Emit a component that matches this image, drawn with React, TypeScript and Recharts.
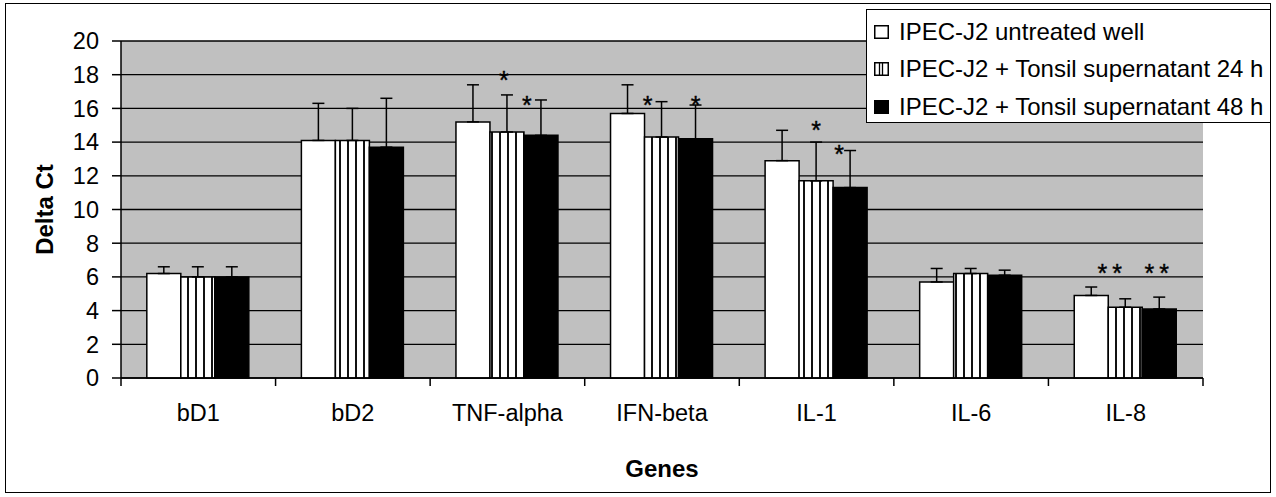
import React from 'react';
import { BarChart, Bar, XAxis, YAxis, CartesianGrid, ErrorBar, Legend, LabelList } from 'recharts';

// ---- data ----
const genes = ['bD1', 'bD2', 'TNF-alpha', 'IFN-beta', 'IL-1', 'IL-6', 'IL-8'];
const untreated = [6.2, 14.1, 15.2, 15.7, 12.9, 5.7, 4.9];
const untreatedErr = [0.4, 2.2, 2.2, 1.7, 1.8, 0.8, 0.5];
const tonsil24 = [6.0, 14.1, 14.6, 14.3, 11.7, 6.2, 4.2];
const tonsil24Err = [0.6, 1.9, 2.2, 2.1, 2.3, 0.3, 0.5];
const tonsil48 = [6.0, 13.7, 14.4, 14.2, 11.3, 6.1, 4.1];
const tonsil48Err = [0.6, 2.9, 2.1, 2.0, 2.2, 0.3, 0.7];
const sig24 = ['', '', '*', '*', '*', '', '**'];
const sig24At = [0, 0, 18.0, 16.5, 15.0, 0, 6.5];
const sig48 = ['', '', '*', '*', '*', '', '**'];
const sig48At = [0, 0, 16.5, 16.5, 13.6, 0, 6.5];
const yTicks = [0, 2, 4, 6, 8, 10, 12, 14, 16, 18, 20];
const seriesNames = [
  'IPEC-J2 untreated well',
  'IPEC-J2 + Tonsil supernatant 24 h',
  'IPEC-J2 + Tonsil supernatant 48 h',
];

// ---- style / layout ----
const FONT = '"Liberation Sans", Arial, Helvetica, sans-serif';
const W = 1276;
const H = 497;
const PLOT_LEFT = 121;
const PLOT_RIGHT = 1203;
const PLOT_TOP = 41;
const PLOT_BOTTOM = 378;
const Y_AXIS_W = 60;
const X_AXIS_H = 30;
const PLOT_W = PLOT_RIGHT - PLOT_LEFT;
const starNudge24 = [0, 0, -3, -14, 0, 0, -13];
const starNudge48 = [0, 0, -14, 0, -11, 0, 0];

const data = genes.map((g, i) => ({
  gene: g,
  untreated: untreated[i],
  untreatedErr: [0, untreatedErr[i]],
  tonsil24: tonsil24[i],
  tonsil24Err: [0, tonsil24Err[i]],
  tonsil48: tonsil48[i],
  tonsil48Err: [0, tonsil48Err[i]],
}));

const GeneTick = (props: any) => {
  const { x, y, payload, index } = props;
  const band = PLOT_W / genes.length;
  const left = x - band / 2;
  const right = x + band / 2;
  return (
    <g>
      <line x1={left} x2={left} y1={y} y2={y + 8} stroke="#000" strokeWidth={1.5} />
      {index === genes.length - 1 && (
        <line x1={right} x2={right} y1={y} y2={y + 8} stroke="#000" strokeWidth={1.5} />
      )}
      <text x={x} y={y + 43} textAnchor="middle" fontSize={23.5} fontFamily={FONT} fill="#000">
        {payload.value}
      </text>
    </g>
  );
};

const makeStar = (labels: string[], at: number[], values: number[], nudge: number[]) => (props: any) => {
  const vb = props.viewBox || props;
  const x = props.x ?? vb.x;
  const y = props.y ?? vb.y;
  const width = props.width ?? vb.width;
  const height = props.height ?? vb.height;
  const i = genes.indexOf(props.value);
  if (i < 0 || !labels[i]) return null;
  const ppu = height / values[i];
  const cy = y - (at[i] - values[i]) * ppu;
  const cx = x + width / 2 + nudge[i];
  return (
    <text
      x={cx}
      y={cy + 14}
      textAnchor="middle"
      fontSize={25}
      fontFamily={FONT}
      fill="#000"
      stroke="#000"
      strokeWidth={0.4}
      letterSpacing={labels[i].length > 1 ? 5 : 0}
    >
      {labels[i]}
    </text>
  );
};

const LegendMarker = ({ kind }: { kind: number }) => (
  <svg width={15} height={14} style={{ display: 'block' }}>
    <rect x={0.75} y={0.75} width={13.5} height={12.5} fill={kind === 2 ? '#000' : '#fff'} stroke="#000" strokeWidth={1.5} />
    {kind === 1 && (
      <>
        <line x1={5.5} x2={5.5} y1={1} y2={13} stroke="#000" strokeWidth={1.3} />
        <line x1={8.5} x2={8.5} y1={1} y2={13} stroke="#000" strokeWidth={1.3} />
      </>
    )}
  </svg>
);

const LegendBox = () => (
  <div
    style={{
      boxSizing: 'border-box',
      width: 405,
      height: 114,
      border: '1.5px solid #000',
      background: '#fff',
      paddingTop: 3,
      fontFamily: FONT,
      fontSize: 24,
      color: '#000',
    }}
  >
    {seriesNames.map((n, k) => (
      <div key={n} style={{ display: 'flex', alignItems: 'center', height: 37.5, paddingLeft: 7, whiteSpace: 'nowrap' }}>
        <LegendMarker kind={k} />
        <span style={{ marginLeft: 10 }}>{n}</span>
      </div>
    ))}
  </div>
);

export default function App() {
  return (
    <div style={{ position: 'absolute', left: 0, top: 0, width: W, height: H, background: '#fff' }}>
      <div
        style={{
          position: 'absolute',
          left: 5,
          top: 3,
          width: 1266,
          height: 490,
          boxSizing: 'border-box',
          border: '1.5px solid #000',
        }}
      />
      <div style={{ position: 'absolute', left: 0, top: 0 }}>
        <BarChart
          width={W}
          height={H}
          data={data}
          margin={{
            top: PLOT_TOP,
            right: W - PLOT_RIGHT,
            bottom: H - PLOT_BOTTOM - X_AXIS_H,
            left: PLOT_LEFT - Y_AXIS_W,
          }}
          barCategoryGap="16.7%"
          barGap={0}
        >
          <defs>
            <pattern id="vstripe" patternUnits="userSpaceOnUse" width={8} height={10}>
              <rect x={0} y={0} width={8} height={10} fill="#fff" />
              <rect x={3} y={0} width={2} height={10} fill="#111" />
            </pattern>
          </defs>
          <CartesianGrid vertical={false} stroke="#000" strokeWidth={1.3} fill="#C0C0C0" fillOpacity={1} />
          <XAxis
            dataKey="gene"
            height={X_AXIS_H}
            interval={0}
            tickSize={0}
            tickMargin={0}
            tickLine={false}
            axisLine={{ stroke: '#000', strokeWidth: 1.5 }}
            tick={<GeneTick />}
            label={{
              value: 'Genes',
              content: (p: any) => {
                const vb = p.viewBox;
                return (
                  <text x={vb.x + vb.width / 2} y={vb.y + 99} textAnchor="middle" fontSize={24} fontWeight="bold" fontFamily={FONT} fill="#000">
                    Genes
                  </text>
                );
              },
            }}
          />
          <YAxis
            width={Y_AXIS_W}
            domain={[0, 20]}
            ticks={yTicks}
            interval={0}
            tickSize={9}
            tickMargin={13}
            axisLine={{ stroke: '#000', strokeWidth: 1.5 }}
            tickLine={{ stroke: '#000', strokeWidth: 1.5 }}
            tick={{ fill: '#000', fontSize: 23.5, fontFamily: FONT }}
            label={{
              value: 'Delta Ct',
              content: (p: any) => {
                const vb = p.viewBox;
                const cx = vb.x + vb.width - 77;
                const cy = vb.y + vb.height / 2;
                return (
                  <text
                    x={cx}
                    y={cy}
                    transform={`rotate(-90 ${cx} ${cy})`}
                    textAnchor="middle"
                    dominantBaseline="central"
                    fontSize={24}
                    fontWeight="bold"
                    fontFamily={FONT}
                    fill="#000"
                  >
                    Delta Ct
                  </text>
                );
              },
            }}
          />
          <YAxis
            yAxisId="frame"
            orientation="right"
            width={0}
            domain={[0, 20]}
            tick={false}
            tickLine={false}
            axisLine={{ stroke: '#808080', strokeWidth: 1.5 }}
          />
          <Legend
            layout="vertical"
            align="center"
            verticalAlign="middle"
            content={() => <LegendBox />}
            wrapperStyle={{ position: 'absolute', left: 866, top: 9, width: 405, height: 114 }}
          />
          <Bar dataKey="untreated" name={seriesNames[0]} fill="#fff" stroke="#000" strokeWidth={1.5} isAnimationActive={false}>
            <ErrorBar dataKey="untreatedErr" width={6} stroke="#000" strokeWidth={1.5} direction="y" />
          </Bar>
          <Bar dataKey="tonsil24" name={seriesNames[1]} fill="url(#vstripe)" stroke="#000" strokeWidth={1.5} isAnimationActive={false}>
            <ErrorBar dataKey="tonsil24Err" width={6} stroke="#000" strokeWidth={1.5} direction="y" />
            <LabelList dataKey="gene" content={makeStar(sig24, sig24At, tonsil24, starNudge24)} />
          </Bar>
          <Bar dataKey="tonsil48" name={seriesNames[2]} fill="#000" stroke="#000" strokeWidth={1.5} isAnimationActive={false}>
            <ErrorBar dataKey="tonsil48Err" width={6} stroke="#000" strokeWidth={1.5} direction="y" />
            <LabelList dataKey="gene" content={makeStar(sig48, sig48At, tonsil48, starNudge48)} />
          </Bar>
        </BarChart>
      </div>
    </div>
  );
}
